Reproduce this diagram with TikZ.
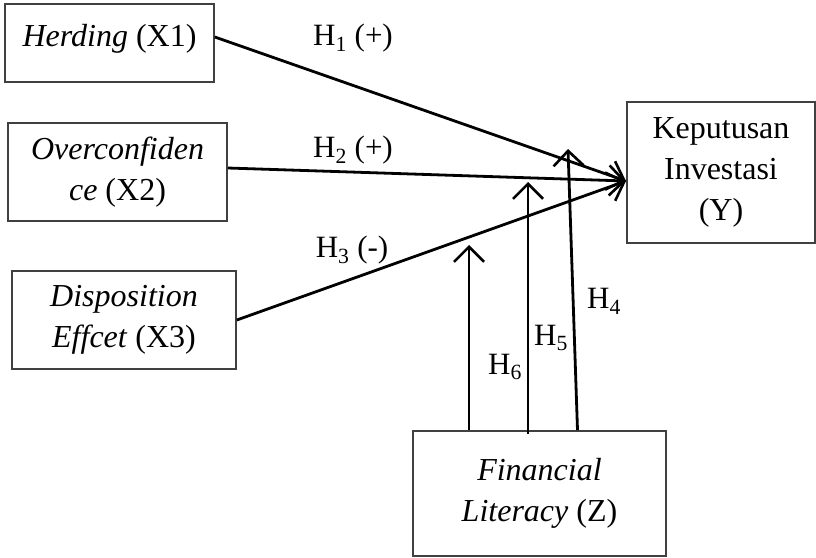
\documentclass[tikz,border=0pt]{standalone}
\usepackage{fontspec}
\setmainfont{Liberation Serif}
\usetikzlibrary{arrows.meta}

\tikzset{
  varbox/.style={draw=black!75, line width=1.6pt, inner sep=0pt, align=center,
    font=\fontsize{32}{41}\selectfont},
  hyplabel/.style={font=\fontsize{31}{34}\selectfont, inner sep=0pt},
  effect/.style={line width=2.8pt, -{Straight Barb[length=15pt,width=30pt,line width=2.6pt]}}
}

\begin{document}
\begin{tikzpicture}[x=1pt,y=-1pt]

\useasboundingbox (0,0) rectangle (816,557);

% variables
\node[varbox, minimum width=209, minimum height=78, text depth=16pt] (x1) at (109.5,43) {\textit{Herding} (X1)};
\node[varbox, minimum width=219, minimum height=98] (x2) at (117.5,172) {\textit{Overconfiden}\\\textit{ce} (X2)};
\node[varbox, minimum width=224, minimum height=98] (x3) at (124,320) {\textit{Disposition}\\\textit{Effcet} (X3)};
\node[varbox, minimum width=188, minimum height=141] (y) at (721,172.5) {Keputusan\\Investasi\\(Y)};
\node[varbox, minimum width=253, minimum height=125] (z) at (539.5,493.5) {\textit{Financial}\\\textit{Literacy} (Z)};

% arrow ends
\coordinate (ytip) at (626,181);
\coordinate (h6tip) at (469,245);
\coordinate (h5tip) at (528,182);
\coordinate (h4tip) at (568,149);

\draw[effect] ([yshift=6pt]x1.east) -- (ytip);
\draw[effect] ([yshift=4pt]x2.east) -- (ytip);
\draw[effect] (x3.east) -- (ytip);

\draw[effect] ([xshift=-70.5pt]z.north) -- (h6tip);
\draw[effect] ([xshift=-11.5pt,yshift=-4pt]z.north) -- (h5tip);
\draw[effect] ([xshift=38pt]z.north) -- (h4tip);

% hypotheses
\node[hyplabel] (h1) at (353,38) {H\textsubscript{1} (+)};
\node[hyplabel] (h2) at (353,150) {H\textsubscript{2} (+)};
\node[hyplabel] (h3) at (352,250) {H\textsubscript{3} (-)};
\node[hyplabel] (h4) at (604,301) {H\textsubscript{4}};
\node[hyplabel] (h5) at (551,338) {H\textsubscript{5}};
\node[hyplabel] (h6) at (505,367) {H\textsubscript{6}};

\end{tikzpicture}
\end{document}
